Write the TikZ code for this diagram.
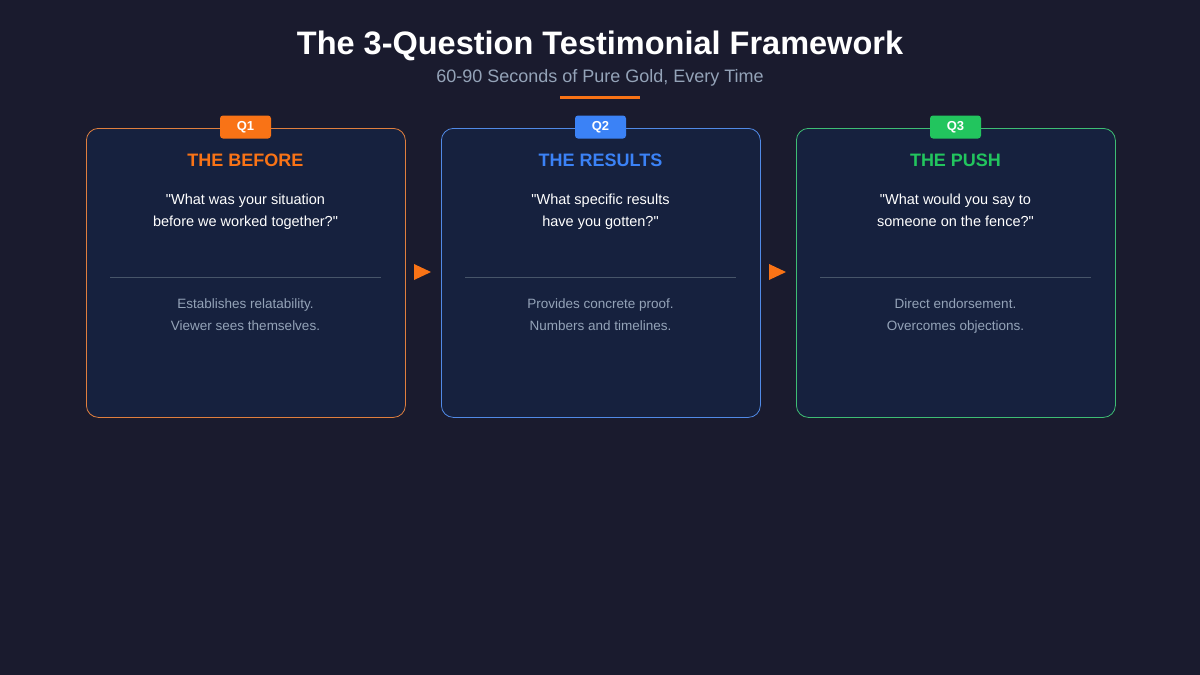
\documentclass[tikz,border=0pt]{standalone}
\usepackage{fontspec}
\setmainfont[Ligatures=NoCommon]{Liberation Sans}
\definecolor{bg}{HTML}{1A1B2E}
\definecolor{card}{HTML}{16213E}
\definecolor{qo}{HTML}{F97316}
\definecolor{qb}{HTML}{3B82F6}
\definecolor{qg}{HTML}{22C55E}
\definecolor{mut}{HTML}{94A3B8}
\definecolor{sep}{HTML}{475569}
\newcommand{\qt}{\textquotedbl}
\begin{document}
\begin{tikzpicture}[x=1pt,y=-1pt,
  cardbox/.style={fill=card,draw=#1!75!mut,line width=0.8pt,rounded corners=12pt,minimum width=319pt,minimum height=289pt,anchor=north west},
  badge/.style={fill=#1,rounded corners=3pt,minimum width=51pt,minimum height=23pt,text=white,font=\fontsize{13}{15}\selectfont\bfseries,inner sep=0pt},
  ttl/.style={text=#1,font=\fontsize{18}{20}\selectfont\bfseries},
  quest/.style={text=white,align=center,anchor=base,font=\fontsize{14.5}{22}\selectfont},
  desc/.style={text=mut,align=center,anchor=base,font=\fontsize{13.5}{22}\selectfont},
  arr/.style={fill=qo,draw=none}]
\fill[bg] (0,0) rectangle (1200,675);
\useasboundingbox (0,0) rectangle (1200,675);
\node[text=white,font=\fontsize{32.5}{36}\selectfont\bfseries] (title) at (600,46) {The 3-Question Testimonial Framework};
\node[text=mut,font=\fontsize{18}{22}\selectfont] (sub) at (600,78) {60-90 Seconds of Pure Gold, Every Time};
\draw[qo,line width=3pt] (560,97) -- (640,97);
\foreach \x/\c/\q/\t/\a/\b/\d/\e in {
 86/qo/Q1/THE BEFORE/\qt What was your situation/before we worked together?\qt/Establishes relatability./Viewer sees themselves.,
 441/qb/Q2/THE RESULTS/\qt What specific results/have you gotten?\qt/Provides concrete proof./Numbers and timelines.,
 796/qg/Q3/THE PUSH/\qt What would you say to/someone on the fence?\qt/Direct endorsement./Overcomes objections.}{
  \node[cardbox=\c] (card\q) at (\x,128) {};
  \node[badge=\c] (b\q) at (\x+159.5,127) {\q};
  \node[ttl=\c] (t\q) at (\x+159.5,160) {\t};
  \node[quest] (qq\q) at (\x+159.5,226) {\a\\\b};
  \draw[sep,line width=0.8pt] (\x+24,277) -- (\x+295,277);
  \node[desc] (d\q) at (\x+159.5,330) {\d\\\e};
}
\fill[arr] (414,264) -- (431,272) -- (414,280) -- cycle;
\fill[arr] (769,264) -- (786,272) -- (769,280) -- cycle;
\end{tikzpicture}
\end{document}
